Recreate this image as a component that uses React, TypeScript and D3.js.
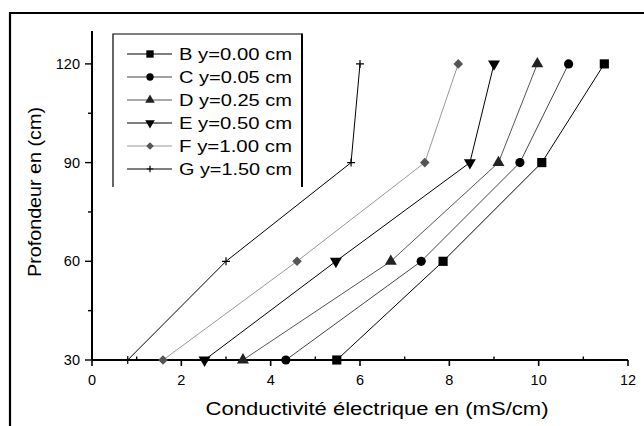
import React from "react";
import * as d3 from "d3";

// depth levels (y) and conductivity per profile (x)
const depths = [30, 60, 90, 120];
const seriesB = [5.48, 7.86, 10.07, 11.47];
const seriesC = [4.34, 7.37, 9.58, 10.67];
const seriesD = [3.38, 6.69, 9.1, 9.97];
const seriesE = [2.52, 5.46, 8.46, 9.0];
const seriesF = [1.59, 4.59, 7.45, 8.2];
const seriesG = [0.8, 3.0, 5.8, 6.0];

const labels = ["B y=0.00 cm", "C y=0.05 cm", "D y=0.25 cm", "E y=0.50 cm", "F y=1.00 cm", "G y=1.50 cm"];
const xMajor = [0, 2, 4, 6, 8, 10, 12];
const xMinor = [1, 3, 5, 7, 9, 11];
const yMajor = [30, 60, 90, 120];
const yMinor = [45, 75, 105];

const FONT = "'Liberation Sans', Arial, sans-serif";

type Kind = "square" | "circle" | "up" | "down" | "diamond" | "plus";

const series = [
  { values: seriesB, kind: "square" as Kind, line: "#000", fill: "#000" },
  { values: seriesC, kind: "circle" as Kind, line: "#444", fill: "#000" },
  { values: seriesD, kind: "up" as Kind, line: "#555", fill: "#222" },
  { values: seriesE, kind: "down" as Kind, line: "#000", fill: "#000" },
  { values: seriesF, kind: "diamond" as Kind, line: "#999", fill: "#555" },
  { values: seriesG, kind: "plus" as Kind, line: "#000", fill: "#000" },
];

const Marker = ({ kind, x, y, fill, k = 1 }: { kind: Kind; x: number; y: number; fill: string; k?: number }) => {
  if (kind === "plus") {
    const h = 4 * k;
    return (
      <path
        d={`M${x - h},${y}H${x + h}M${x},${y - h}V${y + h}`}
        stroke={fill}
        strokeWidth={1.2}
        fill="none"
      />
    );
  }
  let d = "";
  let rot = 0;
  if (kind === "square") d = d3.symbol(d3.symbolSquare, 84 * k * k)()!;
  if (kind === "circle") d = d3.symbol(d3.symbolCircle, 66 * k * k)()!;
  if (kind === "up") d = d3.symbol(d3.symbolTriangle, 62 * k * k)()!;
  if (kind === "down") {
    d = d3.symbol(d3.symbolTriangle, 62 * k * k)()!;
    rot = 180;
  }
  if (kind === "diamond") {
    d = d3.symbol(d3.symbolSquare, 46 * k * k)()!;
    rot = 45;
  }
  return <path d={d} fill={fill} transform={`translate(${x},${y}) rotate(${rot})`} />;
};

export default function App() {
  const x = d3.scaleLinear().domain([0, 12]).range([92, 628]);
  const y = d3.scaleLinear().domain([30, 130]).range([360, 31]);

  const line = d3
    .line<number>()
    .x((d) => x(d))
    .y((_, i) => y(depths[i]));

  const legendY = (i: number) => 54 + i * 23;

  return (
    <svg
      width={644}
      height={426}
      style={{ position: "fixed", left: 0, top: 0, background: "#fff" }}
      fontFamily={FONT}
    >
      <rect width={644} height={426} fill="#fff" />
      {/* outer frame (cropped on the right and bottom) */}
      <path d="M10,426V13H644" fill="none" stroke="#000" strokeWidth={2.2} />

      {/* axes */}
      <line x1={x(0)} x2={x(12)} y1={y(30)} y2={y(30)} stroke="#000" strokeWidth={1.8} />
      <line x1={x(0)} x2={x(0)} y1={y(30)} y2={y(130)} stroke="#000" strokeWidth={2} />
      {xMajor.map((t) => (
        <g key={"xt" + t}>
          <line x1={x(t)} x2={x(t)} y1={y(30)} y2={y(30) + 6} stroke="#000" strokeWidth={1.6} />
          <text x={x(t)} y={y(30) + 25} fontSize={14.5} textAnchor="middle">
            {t}
          </text>
        </g>
      ))}
      {xMinor.map((t) => (
        <line key={"xm" + t} x1={x(t)} x2={x(t)} y1={y(30)} y2={y(30) - 3.5} stroke="#000" strokeWidth={1.4} />
      ))}
      {yMajor.map((t) => (
        <g key={"yt" + t}>
          <line x1={x(0) - 7} x2={x(0)} y1={y(t)} y2={y(t)} stroke="#000" strokeWidth={1.4} />
          <text x={x(0) - 12} y={y(t) + 5} fontSize={14.5} textAnchor="end">
            {t}
          </text>
        </g>
      ))}
      {yMinor.map((t) => (
        <line key={"ym" + t} x1={x(0) - 4} x2={x(0)} y1={y(t)} y2={y(t)} stroke="#000" strokeWidth={1.4} />
      ))}

      {/* axis titles */}
      <text x={377} y={415} fontSize={18} textAnchor="middle" textLength={343} lengthAdjust="spacingAndGlyphs">
        Conductivité électrique en (mS/cm)
      </text>
      <text
        transform="translate(41,192) rotate(-90)"
        fontSize={18}
        textAnchor="middle"
        textLength={170}
        lengthAdjust="spacingAndGlyphs"
      >
        Profondeur en (cm)
      </text>

      {/* series */}
      {series.map((s, si) => (
        <g key={"s" + si}>
          <path d={line(s.values)!} fill="none" stroke={s.line} strokeWidth={1} />
          {s.values.map((v, i) => (
            <Marker key={i} kind={s.kind} x={x(v)} y={y(depths[i])} fill={s.fill} />
          ))}
        </g>
      ))}

      {/* legend */}
      <path d="M113,187V34H302" fill="none" stroke="#000" strokeWidth={1.2} />
      <line x1={302} x2={302} y1={33.5} y2={187} stroke="#000" strokeWidth={2} />
      {series.map((s, i) => (
        <g key={"l" + i}>
          <line x1={127} x2={172} y1={legendY(i)} y2={legendY(i)} stroke={s.line} strokeWidth={1.2} />
          <Marker kind={s.kind} x={150} y={legendY(i)} fill={s.fill} k={0.8} />
          <text x={179} y={legendY(i) + 6} fontSize={16} textLength={113} lengthAdjust="spacingAndGlyphs">
            {labels[i]}
          </text>
        </g>
      ))}
    </svg>
  );
}
